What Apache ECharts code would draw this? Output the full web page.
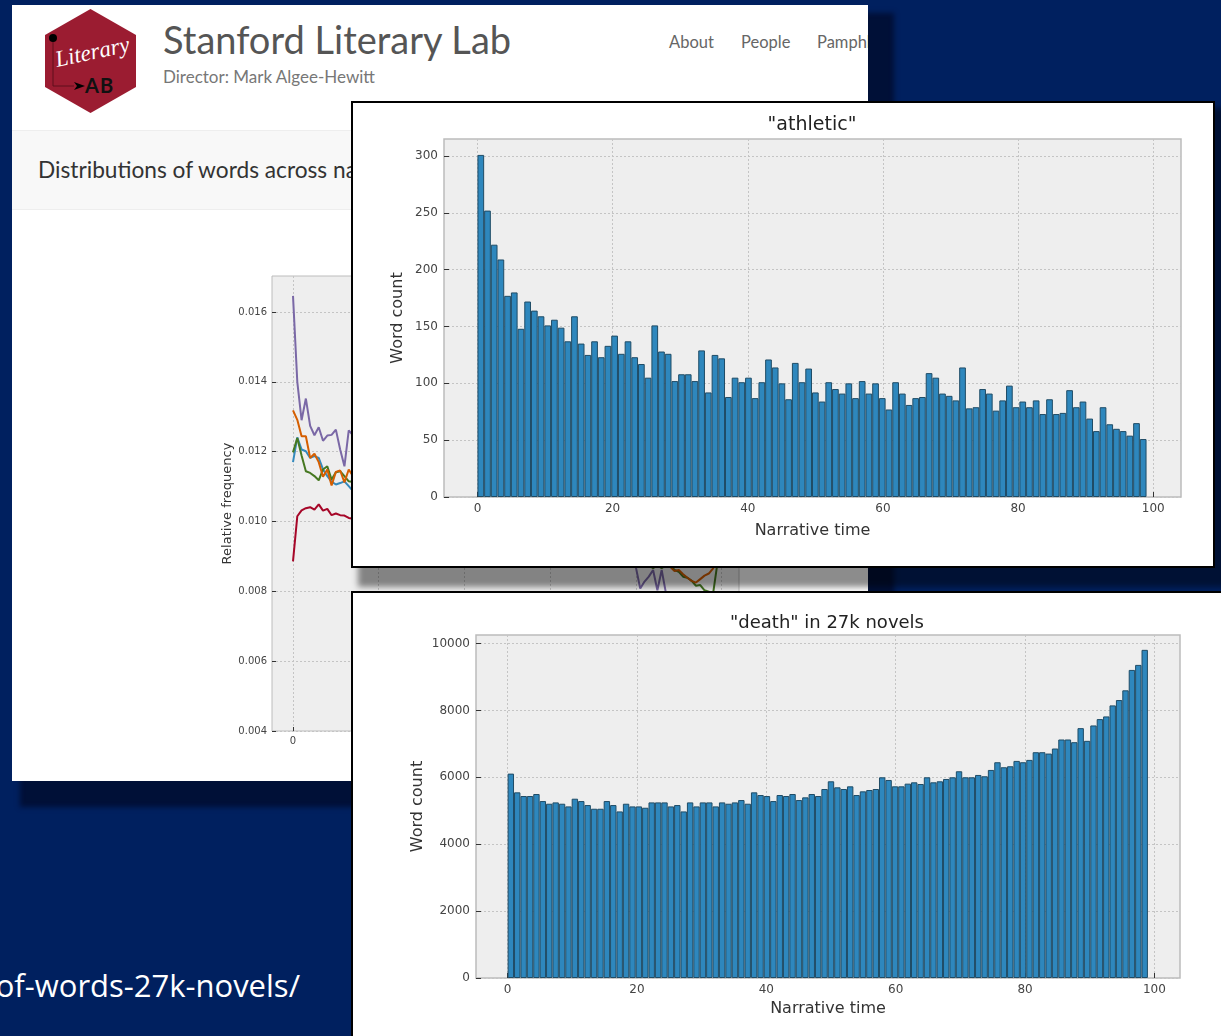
<!DOCTYPE html>
<html>
<head>
<meta charset="utf-8">
<title>Distributions of words across narrative time</title>
<script src="https://cdn.jsdelivr.net/npm/echarts@6/dist/echarts.min.js"></script>
<style>
  html, body { margin: 0; padding: 0; }
  body { width: 1221px; height: 1036px; background: #00205f; position: relative; overflow: hidden; font-family: Lato, sans-serif; }
  .abs { position: absolute; }
  #site { left: 12px; top: 5px; width: 856px; height: 776px; background: #fff; box-shadow: 17px 17px 5px 9px rgba(0, 10, 40, .72); }
  #siteClip { left: 0; top: 0; width: 856px; height: 776px; overflow: hidden; }
  #band { left: 0; top: 125px; width: 856px; height: 80px; background: #f8f8f8; border-top: 1px solid #eee; border-bottom: 1px solid #eee; box-sizing: border-box; }
  #siteTitle { left: 151px; top: 11px; font-size: 38px; color: #555; white-space: nowrap; }
  #director { left: 151px; top: 61px; font-size: 17px; color: #777; white-space: nowrap; }
  .nav { top: 27px; font-size: 16.5px; color: #666; white-space: nowrap; }
  #heading { left: 26px; top: 151px; font-size: 22.7px; color: #333; white-space: nowrap; }
  #url { right: 921px; top: 964px; font-family: "Open Sans", sans-serif; font-size: 31px; color: #fff; white-space: nowrap; }
  #panelA { left: 351px; top: 101px; width: 864px; height: 467px; box-sizing: border-box; background: #fff; border: 2px solid #000; box-shadow: 13px 13px 6px 6px rgba(0, 0, 0, .45); }
  #panelB { left: 351px; top: 591px; width: 880px; height: 450px; box-sizing: border-box; background: #fff; border: 2px solid #000; }
</style>
</head>
<body>

<div id="url" class="abs">of-words-27k-novels/</div>

<div id="site" class="abs">
  <div id="siteClip" class="abs">
    <div id="band" class="abs"></div>
    <svg class="abs" style="left:0;top:0" width="140" height="120">
      <polygon points="78.5,4 124,30 124,82 78.5,108 33,82 33,30" fill="#9b1c31"/>
      <path d="M41 33 V81 H62" stroke="#5e0f1d" stroke-width="1" fill="none"/>
      <circle cx="41" cy="33" r="4" fill="#000"/>
      <path d="M62 77 L73 81 L62 85 L65 81 Z" fill="#000"/>
      <text x="45" y="62" transform="rotate(-12 45 62)" font-family="Liberation Serif" font-style="italic" font-size="23" fill="#fff">Literary</text>
      <text x="73" y="88" font-family="Lato" font-weight="700" font-size="20" letter-spacing="1" fill="#111">AB</text>
    </svg>
    <div id="siteTitle" class="abs">Stanford Literary Lab</div>
    <div id="director" class="abs">Director: Mark Algee-Hewitt</div>
    <div class="abs nav" style="left:657px">About</div>
    <div class="abs nav" style="left:729px">People</div>
    <div class="abs nav" style="left:805px">Pamphlets</div>
    <div id="heading" class="abs">Distributions of words across narrative time</div>
    <div id="chartLines" class="abs" style="left:0;top:0;width:856px;height:776px"></div>
  </div>
</div>

<div id="panelA" class="abs"><div id="chartAthletic" style="width:860px;height:463px"></div></div>
<div id="panelB" class="abs"><div id="chartDeath" style="width:876px;height:446px"></div></div>

<script>
var xTicks = [0, 20, 40, 60, 80, 100];
var binWidth = 0.99;

// "athletic" histogram, one value per bin
var athleticTicks = [0, 50, 100, 150, 200, 250, 300];
var athleticCounts = [
  301, 252, 222, 209, 177, 180, 148, 172, 164, 159,
  151, 156, 149, 137, 159, 135, 125, 137, 123, 133,
  142, 126, 137, 123, 117, 105, 151, 128, 126, 102,
  108, 108, 102, 129, 92, 125, 122, 88, 105, 101,
  105, 87, 101, 121, 114, 100, 86, 118, 101, 113,
  92, 84, 101, 95, 91, 100, 87, 102, 91, 100,
  87, 77, 101, 91, 81, 87, 88, 109, 105, 91,
  89, 85, 114, 78, 79, 95, 91, 76, 85, 98,
  79, 84, 79, 85, 73, 86, 73, 74, 94, 79,
  84, 69, 58, 79, 64, 60, 58, 54, 65, 51
];

// "death" histogram
var deathTicks = [0, 2000, 4000, 6000, 8000, 10000];
var deathCounts = [
  6110, 5550, 5440, 5440, 5500, 5290, 5210, 5250, 5210, 5130,
  5360, 5290, 5170, 5060, 5060, 5290, 5170, 4980, 5210, 5130,
  5130, 5090, 5250, 5250, 5250, 5130, 5170, 4980, 5250, 5130,
  5250, 5250, 5130, 5250, 5210, 5250, 5320, 5210, 5550, 5470,
  5440, 5290, 5470, 5440, 5500, 5320, 5400, 5500, 5440, 5650,
  5880, 5700, 5650, 5730, 5470, 5580, 5620, 5650, 6000, 5920,
  5730, 5730, 5810, 5850, 5800, 6000, 5850, 5880, 5950, 6000,
  6180, 6000, 6000, 6070, 6030, 6220, 6450, 6300, 6330, 6490,
  6450, 6520, 6750, 6750, 6710, 6860, 7130, 7130, 7050, 7470,
  7090, 7550, 7740, 7820, 8150, 8310, 8600, 9210, 9360, 9810
];

// line chart behind the panels: only the first and last stretches show
var lineTicks = [0.004, 0.006, 0.008, 0.01, 0.012, 0.014, 0.016];
var blueHead = [0.0117, 0.01241, 0.01206, 0.01201, 0.01182, 0.01187, 0.01182, 0.01149, 0.0113, 0.01114, 0.01106, 0.0111, 0.01115, 0.01101, 0.01087];
var redHead = [0.00886, 0.01015, 0.01032, 0.01038, 0.01041, 0.01034, 0.01049, 0.01031, 0.01036, 0.01018, 0.01023, 0.01018, 0.01017, 0.0101, 0.01008];
var purpleHead = [0.01646, 0.01400, 0.0129, 0.01352, 0.01274, 0.01247, 0.0127, 0.01231, 0.01246, 0.01248, 0.01263, 0.01206, 0.01158, 0.01261, 0.01247];
var greenHead = [0.01198, 0.01239, 0.01189, 0.01144, 0.01139, 0.0113, 0.01118, 0.01149, 0.01158, 0.0112, 0.01141, 0.01144, 0.0113, 0.01115, 0.01113];
var orangeHead = [0.01318, 0.01291, 0.01244, 0.01244, 0.01182, 0.01194, 0.0117, 0.01128, 0.01149, 0.01103, 0.01142, 0.01146, 0.01112, 0.01149, 0.0113];
var purpleTail = [0.009, 0.00868, 0.00808, 0.00828, 0.00842, 0.00861, 0.00803, 0.00861, 0.00795, 0.0078]; // from x = 79
var greenTail = [0.00875, 0.00866, 0.00875, 0.00866, 0.00875, 0.00875, 0.00861, 0.00856, 0.00842, 0.00839, 0.0083, 0.00816, 0.00818, 0.00803, 0.00799, 0.00794, 0.0088]; // from x = 83
var orangeTail = [0.0087, 0.00858, 0.00861, 0.00849, 0.00839, 0.0083, 0.00825, 0.00835, 0.00845, 0.00851, 0.00866, 0.0089]; // from x = 88

var fontName = "DejaVu Sans";

function linePoints(head, tailStart, tail) {
  var pts = head.map(function (v, i) { return [i, v]; });
  if (tail) {
    pts.push([head.length, null]);
    tail.forEach(function (v, i) { pts.push([tailStart + i, v]); });
  }
  return pts;
}

function axisBits(ticks, fontSize) {
  return {
    axisLine: { show: false, onZero: false },
    axisTick: { show: true, inside: true, length: 5, lineStyle: { color: "#333", width: 1 }, customValues: ticks },
    axisLabel: {
      color: "#444", fontSize: fontSize, fontFamily: fontName, margin: 6, customValues: ticks, hideOverlap: false,
      formatter: function (v) { return String(v); }
    },
    splitLine: { show: true, lineStyle: { color: "#c4c4c4", width: 1, type: [2, 2] } }
  };
}

function histOption(cfg) {
  var xa = axisBits(xTicks, 12), ya = axisBits(cfg.yTicks, 12);
  return {
    animation: false,
    title: {
      text: cfg.title, left: cfg.titleX, top: cfg.titleY, textAlign: "center",
      textStyle: { fontFamily: fontName, fontWeight: "normal", fontSize: cfg.titleSize, color: "#222" }
    },
    grid: { left: cfg.grid[0], top: cfg.grid[1], width: cfg.grid[2], height: cfg.grid[3], show: true, backgroundColor: "#eeeeee", borderColor: "#bcbcbc", borderWidth: 1.5 },
    xAxis: Object.assign({
      type: "value", min: cfg.xMin, max: cfg.xMax,
      name: "Narrative time", nameLocation: "middle", nameGap: cfg.xNameGap, nameMoveOverlap: false,
      nameTextStyle: { fontFamily: fontName, fontSize: 16, color: "#333" }
    }, xa),
    yAxis: Object.assign({
      type: "value", min: 0, max: cfg.yMax,
      name: "Word count", nameLocation: "middle", nameGap: cfg.nameGap, nameMoveOverlap: false,
      nameTextStyle: { fontFamily: fontName, fontSize: 16, color: "#333" }
    }, ya),
    series: [{
      type: "bar",
      barWidth: cfg.barPx,
      data: cfg.counts.map(function (v, i) { return [(i + 0.5) * binWidth, v]; }),
      itemStyle: { color: "#2e87bd", borderColor: "#1f4c66", borderWidth: 1 }
    }]
  };
}

var athletic = echarts.init(document.getElementById("chartAthletic"));
athletic.setOption(histOption({
  title: '"athletic"', titleX: 454, titleY: 8, titleSize: 19,
  grid: [91, 36, 737, 358],
  xMin: -4.95, xMax: 104.1, yMax: 315,
  yTicks: athleticTicks, counts: athleticCounts, barPx: 6.7, nameGap: 38, xNameGap: 26
}));

var death = echarts.init(document.getElementById("chartDeath"));
death.setOption(histOption({
  title: '"death" in 27k novels', titleX: 469, titleY: 16, titleSize: 18,
  grid: [123, 42, 704, 343],
  xMin: -4.89, xMax: 103.96, yMax: 10254,
  yTicks: deathTicks, counts: deathCounts, barPx: 6.4, nameGap: 50, xNameGap: 23
}));

var lineAxisX = axisBits(xTicks, 10), lineAxisY = axisBits(lineTicks, 10);
lineAxisX.axisLabel.margin = 5;
lineAxisY.axisLabel.margin = 5;
lineAxisY.axisLabel.formatter = function (v) { return v.toFixed(3); };
lineAxisX.axisTick.length = 4;
lineAxisY.axisTick.length = 4;

function lineSeries(color, pts) {
  return { type: "line", data: pts, showSymbol: false, connectNulls: false, lineStyle: { color: color, width: 2 } };
}

var lines = echarts.init(document.getElementById("chartLines"));
lines.setOption({
  animation: false,
  grid: { left: 260, top: 271, width: 467, height: 455, show: true, backgroundColor: "#eeeeee", borderColor: "#bcbcbc", borderWidth: 1 },
  xAxis: Object.assign({ type: "value", min: -4.9, max: 104.04 }, lineAxisX),
  yAxis: Object.assign({
    type: "value", min: 0.004, max: 0.01703,
    name: "Relative frequency", nameLocation: "middle", nameGap: 38, nameMoveOverlap: false,
    nameTextStyle: { fontFamily: fontName, fontSize: 13, color: "#333" }
  }, lineAxisY),
  series: [
    lineSeries("#348ABD", linePoints(blueHead)),
    lineSeries("#A60628", linePoints(redHead)),
    lineSeries("#7A68A6", linePoints(purpleHead, 79, purpleTail)),
    lineSeries("#467821", linePoints(greenHead, 83, greenTail)),
    lineSeries("#D55E00", linePoints(orangeHead, 88, orangeTail))
  ]
});
</script>
</body>
</html>
